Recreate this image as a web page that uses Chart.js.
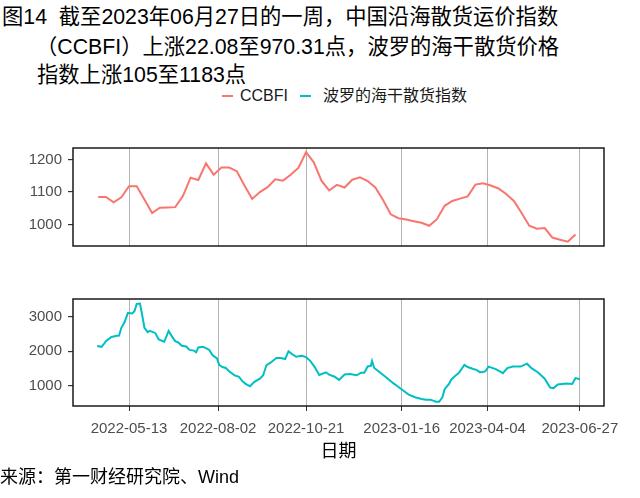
<!DOCTYPE html>
<html>
<head>
<meta charset="utf-8">
<script src="https://cdn.jsdelivr.net/npm/chart.js@4.4.0/dist/chart.umd.min.js"></script>
<style>
  body { margin: 0; background: #fff; }
  #wrap { position: relative; width: 640px; height: 498px; overflow: hidden; font-family: "Liberation Sans", "Noto Sans CJK SC", sans-serif; }
  .t { position: absolute; white-space: pre; color: #000; }
  .ttl { font-size: 21.3px; line-height: 21px; }
  .dash { position: absolute; width: 11px; height: 2px; }
  .leg { position: absolute; font-size: 16px; line-height: 16px; color: #1a1a1a; }
  canvas { position: absolute; left: 0; }
</style>
</head>
<body>
<div id="wrap">
  <div class="t ttl" style="left:2px;top:7px;">图14  截至2023年06月27日的一周，中国沿海散货运价指数</div>
  <div class="t ttl" style="left:36px;top:37px;">（CCBFI）上涨22.08至970.31点，波罗的海干散货价格</div>
  <div class="t ttl" style="left:37px;top:65px;">指数上涨105至1183点</div>

  <div class="dash" style="left:222px;top:95px;background:#F8766D;"></div>
  <div class="leg" style="left:240px;top:88px;">CCBFI</div>
  <div class="dash" style="left:300px;top:95px;background:#00BFC4;"></div>
  <div class="leg" style="left:323px;top:88px;">波罗的海干散货指数</div>

  <canvas id="topChart" width="640" height="128" style="top:133px;"></canvas>
  <canvas id="botChart" width="640" height="190" style="top:284px;"></canvas>

  <div class="t" style="left:0px;top:468px;font-size:18px;line-height:18px;">来源：第一财经研究院、Wind</div>
</div>

<script>
// ---- data ----
const tickLabels = ['2022-05-13', '2022-08-02', '2022-10-21', '2023-01-16', '2023-04-04', '2023-06-27'];

const ccbfiDates = [
  '2022-04-15','2022-04-22','2022-04-29','2022-05-06','2022-05-13','2022-05-20','2022-05-27','2022-06-03',
  '2022-06-10','2022-06-17','2022-06-24','2022-07-01','2022-07-08','2022-07-15','2022-07-22','2022-07-29',
  '2022-08-05','2022-08-12','2022-08-19','2022-08-26','2022-09-02','2022-09-09','2022-09-16','2022-09-23',
  '2022-09-30','2022-10-07','2022-10-14','2022-10-21','2022-10-28','2022-11-04','2022-11-11','2022-11-18',
  '2022-11-25','2022-12-02','2022-12-09','2022-12-16','2022-12-23','2022-12-30','2023-01-06','2023-01-13',
  '2023-01-20','2023-01-27','2023-02-03','2023-02-10','2023-02-17','2023-02-24','2023-03-03','2023-03-10',
  '2023-03-17','2023-03-24','2023-03-31','2023-04-07','2023-04-14','2023-04-21','2023-04-28','2023-05-05',
  '2023-05-12','2023-05-19','2023-05-26','2023-06-02','2023-06-09','2023-06-16','2023-06-23'
];
const ccbfiValues = [
  1085,1085,1069,1084,1118,1118,1077,1036,1052,1053,1054,1088,1144,1137,1188,1153,
  1175,1175,1164,1120,1079,1100,1115,1139,1135,1153,1174,1222,1191,1135,1105,1122,
  1114,1138,1145,1134,1114,1076,1032,1020,1016,1011,1006,997,1017,1058,1073,1080,
  1087,1123,1127,1120,1111,1094,1073,1036,997,988,990,961,954,948,970
];

const bdiDates = [
  '2022-04-14','2022-04-18','2022-04-20','2022-04-22','2022-04-27','2022-05-02','2022-05-04','2022-05-06',
  '2022-05-09','2022-05-12','2022-05-16','2022-05-18','2022-05-20','2022-05-23','2022-05-25','2022-05-27',
  '2022-05-30','2022-06-01','2022-06-06','2022-06-09','2022-06-14','2022-06-16','2022-06-18','2022-06-21',
  '2022-06-24','2022-06-27','2022-06-30','2022-07-04','2022-07-07','2022-07-11','2022-07-13','2022-07-15',
  '2022-07-19','2022-07-22','2022-07-25','2022-07-28','2022-08-01','2022-08-03','2022-08-06','2022-08-09',
  '2022-08-12','2022-08-17','2022-08-21','2022-08-24','2022-08-27','2022-08-31','2022-09-04','2022-09-09',
  '2022-09-12','2022-09-15','2022-09-19','2022-09-24','2022-09-28','2022-10-02','2022-10-05','2022-10-08',
  '2022-10-12','2022-10-17','2022-10-21','2022-10-25','2022-10-29','2022-11-02','2022-11-08','2022-11-11',
  '2022-11-16','2022-11-20','2022-11-25','2022-11-30','2022-12-06','2022-12-10','2022-12-13','2022-12-16',
  '2022-12-19','2022-12-20','2022-12-22','2022-12-27','2023-01-02','2023-01-08','2023-01-13','2023-01-17',
  '2023-01-22','2023-01-28','2023-02-03','2023-02-07','2023-02-11','2023-02-13','2023-02-16','2023-02-19',
  '2023-02-22','2023-02-24','2023-02-28','2023-03-02','2023-03-05','2023-03-09','2023-03-14','2023-03-17',
  '2023-03-22','2023-03-25','2023-03-28','2023-03-31','2023-04-02','2023-04-05','2023-04-12','2023-04-18',
  '2023-04-22','2023-04-27','2023-05-04','2023-05-10','2023-05-14','2023-05-20','2023-05-26','2023-05-31',
  '2023-06-03','2023-06-07','2023-06-15','2023-06-20','2023-06-23','2023-06-27'
];
const bdiValues = [
  2150,2125,2200,2290,2410,2448,2450,2677,
  2843,3110,3095,3165,3370,3380,3040,2677,
  2550,2586,2520,2338,2271,2429,2586,2429,
  2290,2244,2153,2133,2034,2015,1968,2106,
  2125,2089,2034,1877,1786,1601,1537,1510,
  1416,1297,1250,1130,1049,980,1110,1200,
  1300,1595,1670,1800,1802,1770,1995,1920,
  1835,1862,1825,1710,1528,1305,1385,1316,
  1255,1163,1320,1335,1297,1372,1372,1554,
  1573,1711,1510,1388,1234,1076,958,864,
  745,660,610,590,585,570,530,528,
  660,895,1050,1170,1260,1370,1600,1537,
  1482,1454,1388,1390,1416,1550,1470,1360,
  1505,1550,1550,1635,1505,1380,1200,940,
  925,1030,1060,1045,1215,1183
];

const topTicks = [1000, 1100, 1200];
const botTicks = [1000, 2000, 3000];

// ---- helpers ----
const DAY = 86400000;
function toDay(s) { return Date.parse(s + 'T00:00:00Z') / DAY; }
function dayLabel(v) { return new Date(Math.round(v) * DAY).toISOString().slice(0, 10); }

const tickDays = tickLabels.map(toDay);
const allDays = bdiDates.concat(ccbfiDates).map(toDay);
const dMin = Math.min(...allDays), dMax = Math.max(...allDays);
const pad = (dMax - dMin) * 0.05;
const xMin = dMin - pad, xMax = dMax + pad;

const ccbfiPts = ccbfiDates.map((d, i) => ({ x: toDay(d), y: ccbfiValues[i] }));
const bdiPts = bdiDates.map((d, i) => ({ x: toDay(d), y: bdiValues[i] }));

const tickFont = { family: '"Liberation Sans", Arial, sans-serif', size: 15 };

// panel frame like ggplot
const framePlugin = {
  id: 'frame',
  afterDraw(chart) {
    const { ctx, chartArea: a } = chart;
    ctx.save();
    ctx.strokeStyle = '#1a1a1a';
    ctx.lineWidth = 1.5;
    ctx.strokeRect(a.left, a.top, a.right - a.left, a.bottom - a.top);
    ctx.restore();
  }
};

function yScale(min, max, ticks) {
  return {
    type: 'linear', min: min, max: max,
    afterBuildTicks: s => { s.ticks = ticks.map(v => ({ value: v })); },
    afterFit: s => { s.width = 73; },
    border: { display: false },
    grid: { drawOnChartArea: false, drawTicks: true, tickLength: 5, tickColor: '#333', lineWidth: 1.2 },
    ticks: { color: '#4d4d4d', font: tickFont, padding: 6, callback: v => String(v) }
  };
}

// ===== CCBFI panel =====
new Chart(document.getElementById('topChart').getContext('2d'), {
  type: 'line',
  data: {
    datasets: [{
      label: 'CCBFI',
      data: ccbfiPts,
      borderColor: '#F8766D',
      borderWidth: 2,
      pointRadius: 0,
      tension: 0
    }]
  },
  options: {
    responsive: false,
    animation: false,
    devicePixelRatio: 1,
    layout: { padding: { top: 10, bottom: 5, left: 0, right: 36 } },
    plugins: { legend: { display: false }, tooltip: { enabled: false } },
    scales: {
      x: {
        type: 'linear', min: xMin, max: xMax,
        afterBuildTicks: s => { s.ticks = tickDays.map(v => ({ value: v })); },
        afterFit: s => { s.height = 0; },
        border: { display: false },
        grid: { color: '#b3b3b3', lineWidth: 1, drawTicks: false },
        ticks: { display: false }
      },
      y: yScale(935, 1235, topTicks)
    }
  },
  plugins: [framePlugin]
});

// ===== BDI panel =====
new Chart(document.getElementById('botChart').getContext('2d'), {
  type: 'line',
  data: {
    datasets: [{
      label: '波罗的海干散货指数',
      data: bdiPts,
      borderColor: '#00BFC4',
      borderWidth: 2,
      pointRadius: 0,
      tension: 0
    }]
  },
  options: {
    responsive: false,
    animation: false,
    devicePixelRatio: 1,
    layout: { padding: { top: 10, bottom: 0, left: 0, right: 36 } },
    plugins: { legend: { display: false }, tooltip: { enabled: false } },
    scales: {
      x: {
        type: 'linear', min: xMin, max: xMax,
        afterBuildTicks: s => { s.ticks = tickDays.map(v => ({ value: v })); },
        afterFit: s => { s.height = 68; },
        border: { display: false },
        grid: { color: '#b3b3b3', lineWidth: 1, drawTicks: true, tickLength: 5, tickColor: '#333' },
        ticks: {
          color: '#4d4d4d', font: tickFont, padding: 9,
          autoSkip: false, maxRotation: 0,
          callback: v => dayLabel(v)
        },
        title: {
          display: true, text: '日期', color: '#000',
          font: { family: '"Noto Sans CJK SC", sans-serif', size: 18 },
          padding: { top: 0, bottom: 13 }
        }
      },
      y: yScale(406, 3513, botTicks)
    }
  },
  plugins: [framePlugin]
});
</script>
</body>
</html>
